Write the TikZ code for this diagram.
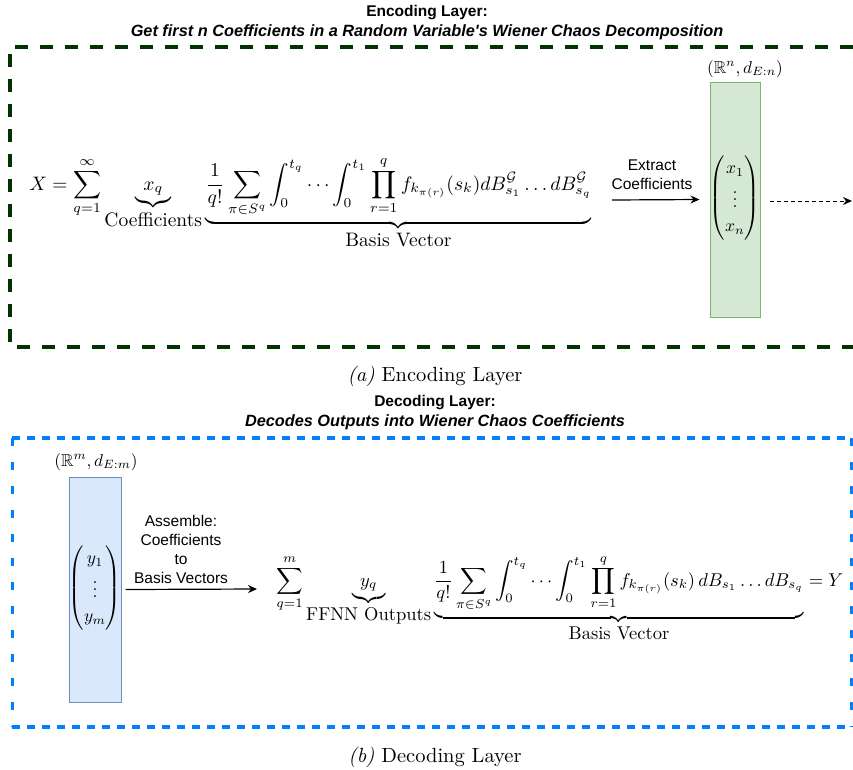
\documentclass[tikz,border=0pt]{standalone}
\usepackage{amsmath,amssymb}
\usepackage{fontspec}
\newfontfamily\sansf{Liberation Sans}
\usetikzlibrary{arrows.meta}
\definecolor{encgreen}{RGB}{0,51,0}
\definecolor{decblue}{RGB}{0,127,255}
\definecolor{gfill}{HTML}{D5E8D4}
\definecolor{gline}{HTML}{82B366}
\definecolor{bfill}{HTML}{DAE8FC}
\definecolor{bline}{HTML}{6C8EBF}
\begin{document}
\begin{tikzpicture}[x=1pt,y=-1pt,
  titlebox/.style={font=\sansf\bfseries\fontsize{15.5}{20}\selectfont, align=center, inner sep=0pt},
  mathbox/.style={scale=1.95, transform shape, inner sep=0pt},
  decmathbox/.style={scale=1.85, transform shape, inner sep=0pt},
  vecbox/.style={scale=1.75, transform shape, inner sep=0pt},
  spacelbl/.style={scale=1.72, transform shape, inner sep=0pt},
  capbox/.style={scale=2.05, transform shape, inner sep=0pt},
  lbl/.style={font=\sansf\fontsize{15.5}{19}\selectfont, align=center, inner sep=0pt},
  arr/.style={-{Stealth[length=9pt,width=8pt]}, line width=1.2pt},
  darr/.style={-{Stealth[length=9pt,width=8pt]}, line width=1pt, dash pattern=on 4pt off 3pt},
  encline/.style={draw=encgreen, line width=4pt, dash pattern=on 13pt off 12pt},
  bh/.style={draw=decblue, line width=3.5pt, dash pattern=on 8pt off 7pt},
  bv/.style={draw=decblue, line width=3pt, dash pattern=on 8pt off 16pt},
  grectbox/.style={draw=gline, fill=gfill, line width=1pt, minimum width=50pt, minimum height=235pt, inner sep=0pt},
  brectbox/.style={draw=bline, fill=bfill, line width=1pt, minimum width=52pt, minimum height=225pt, inner sep=0pt}
]
\useasboundingbox (0,0) rectangle (853,769);

% ---------- Encoding ----------
\node[titlebox] (t1) at (427,23) {Encoding Layer:\\ \fontsize{16.3}{20}\selectfont\itshape Get first n Coefficients in a Random Variable's Wiener Chaos Decomposition};
\draw[encline] (853,47) -- (10,47) -- (10,347) -- (853,347);

\node[mathbox, anchor=base west] (encf) at (29,190) {$\displaystyle X=\sum_{q=1}^{\infty}\underbrace{x_q}_{\mbox{Coefficients}}\underbrace{\frac{1}{q!}\sum_{\pi\in S^q}\int_0^{t_q}\cdots\int_0^{t_1}\prod_{r=1}^{q} f_{k_{\pi(r)}}(s_k)dB^{\mathcal{G}}_{s_1}\ldots dB^{\mathcal{G}}_{s_q}}_{\mbox{Basis Vector}}$};

\node[grectbox] (grect) at (735,199.5) {};
\node[vecbox] (xvec) at (735,198) {$\renewcommand{\arraystretch}{1.15}\left(\begin{array}{@{}c@{}} x_1\\ \vdots\\ x_n\end{array}\right)$};
\node[spacelbl, anchor=base] (glab) at (745,73) {$(\mathbb{R}^n, d_{E:n})$};

\coordinate (e1s) at (612,200);
\draw[arr] (e1s) -- ([xshift=-10pt]grect.west);
\node[lbl] (elab) at (652,175) {Extract\\Coefficients};

\coordinate (dstart) at (770,201);
\coordinate (dend) at (852,201);
\draw[darr] (dstart) -- (dend);

\node[capbox] (capa) at (435,376) {\textit{(a)} Encoding Layer};

% ---------- Decoding ----------
\node[titlebox] (t2) at (435,412.5) {Decoding Layer:\\ \fontsize{16.3}{20}\selectfont\itshape Decodes Outputs into Wiener Chaos Coefficients};
\draw[bh] (12,438) -- (851,438);
\draw[bh] (12,727) -- (851,727);
\draw[bv] (12,438) -- (12,727);
\draw[bv] (851,438) -- (851,727);

\node[brectbox] (brect) at (95,589.5) {};
\node[vecbox] (yvec) at (95,588) {$\renewcommand{\arraystretch}{1.15}\left(\begin{array}{@{}c@{}} y_1\\ \vdots\\ y_m\end{array}\right)$};
\node[spacelbl, anchor=base] (blab) at (96,466) {$(\mathbb{R}^m, d_{E:m})$};

\coordinate (a2e) at (257,589);
\draw[arr] ([xshift=4pt]brect.east) -- (a2e);
\node[lbl] (dlab) at (181,549) {Assemble:\\Coefficients\\to\\Basis Vectors};

\node[decmathbox, anchor=base west] (decf) at (276,586) {$\displaystyle \sum_{q=1}^{m}\underbrace{y_q}_{\mbox{FFNN Outputs}}\underbrace{\frac{1}{q!}\sum_{\pi\in S^q}\int_0^{t_q}\cdots\int_0^{t_1}\prod_{r=1}^{q} f_{k_{\pi(r)}}(s_k)\,dB_{s_1}\ldots dB_{s_q}}_{\mbox{Basis Vector}}=Y$};

\node[capbox] (capb) at (435,757) {\textit{(b)} Decoding Layer};
\end{tikzpicture}
\end{document}
